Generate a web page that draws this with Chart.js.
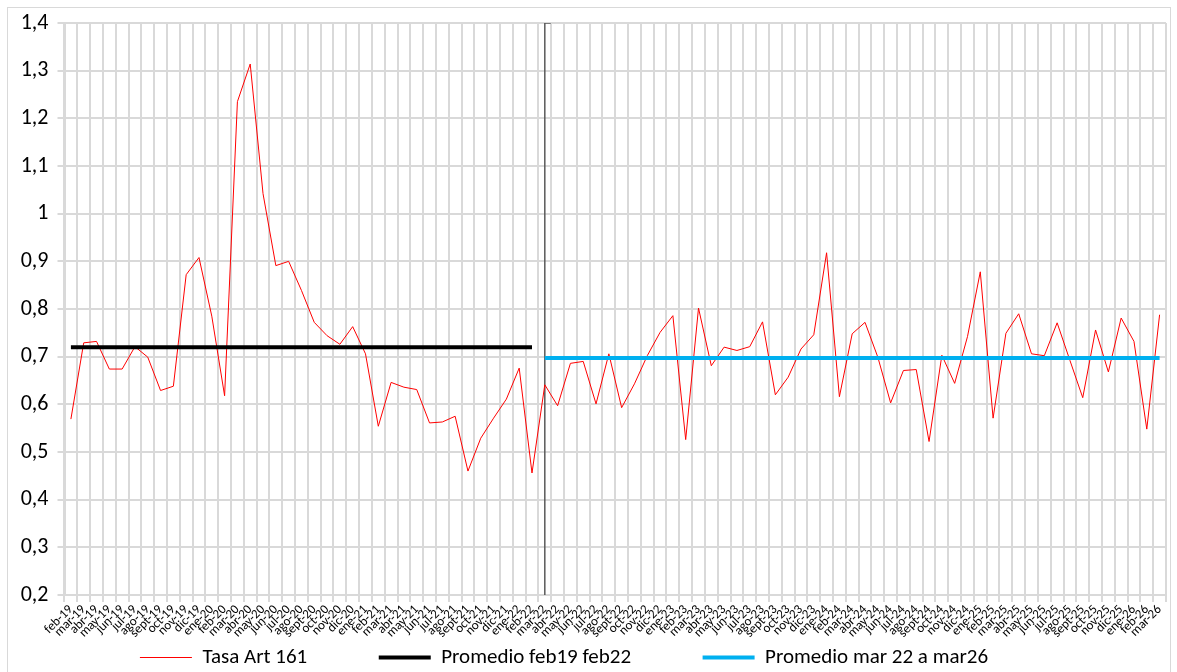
<!DOCTYPE html>
<html>
<head>
<meta charset="utf-8">
<script src="https://cdn.jsdelivr.net/npm/chart.js@4"></script>
<style>
body{margin:0;background:#fff;}
#wrap{width:1177px;height:672px;position:relative;}
</style>
</head>
<body>
<div id="wrap"><canvas id="grafico"></canvas></div>
<script>
// meses feb-19 .. mar-26
const meses = [
'feb-19','mar-19','abr-19','may-19','jun-19','jul-19','ago-19','sept-19','oct-19','nov-19','dic-19',
'ene-20','feb-20','mar-20','abr-20','may-20','jun-20','jul-20','ago-20','sept-20','oct-20','nov-20','dic-20',
'ene-21','feb-21','mar-21','abr-21','may-21','jun-21','jul-21','ago-21','sept-21','oct-21','nov-21','dic-21',
'ene-22','feb-22','mar-22','abr-22','may-22','jun-22','jul-22','ago-22','sept-22','oct-22','nov-22','dic-22',
'ene-23','feb-23','mar-23','abr-23','may-23','jun-23','jul-23','ago-23','sept-23','oct-23','nov-23','dic-23',
'ene-24','feb-24','mar-24','abr-24','may-24','jun-24','jul-24','ago-24','sept-24','oct-24','nov-24','dic-24',
'ene-25','feb-25','mar-25','abr-25','may-25','jun-25','jul-25','ago-25','sept-25','oct-25','nov-25','dic-25',
'ene-26','feb-26','mar-26'
];

const tasaArt161 = [
0.569,0.729,0.732,0.674,0.674,0.721,0.699,0.629,0.638,0.872,0.908,
0.785,0.618,1.235,1.314,1.042,0.891,0.900,0.839,0.772,0.744,0.726,0.763,
0.706,0.554,0.646,0.636,0.631,0.561,0.563,0.575,0.460,0.529,0.571,0.611,
0.676,0.456,0.641,0.597,0.686,0.690,0.601,0.706,0.593,0.643,0.702,0.751,
0.786,0.526,0.802,0.681,0.720,0.713,0.721,0.773,0.620,0.657,0.716,0.746,
0.918,0.616,0.748,0.772,0.699,0.603,0.671,0.673,0.522,0.703,0.644,0.742,
0.878,0.571,0.749,0.790,0.706,0.702,0.771,0.692,0.614,0.756,0.668,0.781,
0.732,0.548,0.788
];

const promedio1 = 0.72;   // feb19 - feb22
const promedio2 = 0.697;  // mar22 - mar26
const corte = 'mar-22';

const yMin = 0.2, yMax = 1.4;

const fuente = "Carlito, Calibri, Lato, sans-serif";

const marco = {
  id: 'marco',
  beforeDraw(chart){
    const c = chart.ctx;
    c.save();
    c.strokeStyle = '#d9d9d9';
    c.lineWidth = 1;
    c.strokeRect(7.5, 7.5, 1163, 700);
    c.restore();
  }
};

// baja un poco la leyenda y la corre a la izquierda, como en el original
const moverLeyenda = {
  id: 'moverLeyenda',
  afterLayout(chart){
    const lg = chart.legend;
    if (!lg) return;
    lg.top += 6; lg.bottom += 6;
    lg.left -= 23; lg.right -= 23;
  }
};

new Chart(document.getElementById('grafico'), {
  type: 'line',
  data: {
    labels: meses,
    datasets: [
      {
        label: 'Tasa Art 161',
        data: tasaArt161,
        borderColor: '#ff0000',
        backgroundColor: '#ff0000',
        borderWidth: 1,
        pointRadius: 0,
        tension: 0,
        order: 3
      },
      {
        label: 'Promedio feb19 feb22',
        data: [{x: 'feb-19', y: promedio1}, {x: 'feb-22', y: promedio1}],
        borderColor: '#000000',
        backgroundColor: '#000000',
        borderWidth: 4,
        pointRadius: 0,
        order: 1
      },
      {
        label: 'Promedio mar 22 a mar26',
        data: [{x: corte, y: promedio2}, {x: 'mar-26', y: promedio2}],
        borderColor: '#00b0f0',
        backgroundColor: '#00b0f0',
        borderWidth: 4,
        pointRadius: 0,
        order: 2
      },
      {
        label: 'corte',
        data: [{x: corte, y: yMin}, {x: corte, y: yMax}],
        borderColor: '#595959',
        backgroundColor: '#595959',
        borderWidth: 1.5,
        pointStyle: 'dash',
        pointRadius: [0, 6],
        pointBorderWidth: 1.5,
        order: 4
      }
    ]
  },
  options: {
    responsive: true,
    maintainAspectRatio: false,
    animation: false,
    layout: {padding: {left: 8, top: 23, right: 11, bottom: 0}},
    plugins: {
      tooltip: {enabled: false},
      legend: {
        position: 'bottom',
        labels: {
          usePointStyle: true,
          pointStyle: 'line',
          pointStyleWidth: 52,
          padding: 1,
          color: '#000',
          font: {family: fuente, size: 21},
          generateLabels(chart){
            const base = Chart.defaults.plugins.legend.labels.generateLabels(chart);
            return base
              .filter(item => item.text !== 'corte')
              .sort((a, b) => a.datasetIndex - b.datasetIndex)
              .map((item, i, arr) => {
                if (i < arr.length - 1) item.text = item.text + '\u2003\u2003      ';
                return item;
              });
          }
        }
      }
    },
    scales: {
      x: {
        offset: true,
        grid: {offset: true, color: '#d9d9d9', lineWidth: 2, tickLength: 7},
        border: {color: '#d9d9d9', width: 2},
        ticks: {
          autoSkip: false,
          minRotation: 45,
          maxRotation: 45,
          padding: 0,
          color: '#000',
          font: {family: fuente, size: 13}
        },
        afterFit(scale){ scale.height = 45; }
      },
      y: {
        min: yMin,
        max: yMax,
        grid: {color: '#d9d9d9', lineWidth: 2, tickLength: 7},
        border: {color: '#d9d9d9', width: 2},
        ticks: {
          stepSize: 0.1,
          padding: 9,
          color: '#000',
          font: {family: fuente, size: 22},
          callback: v => String(Math.round(v * 10) / 10).replace('.', ',')
        },
        afterFit(scale){ scale.width = 56.5; }
      }
    }
  },
  plugins: [marco, moverLeyenda]
});
</script>
</body>
</html>
